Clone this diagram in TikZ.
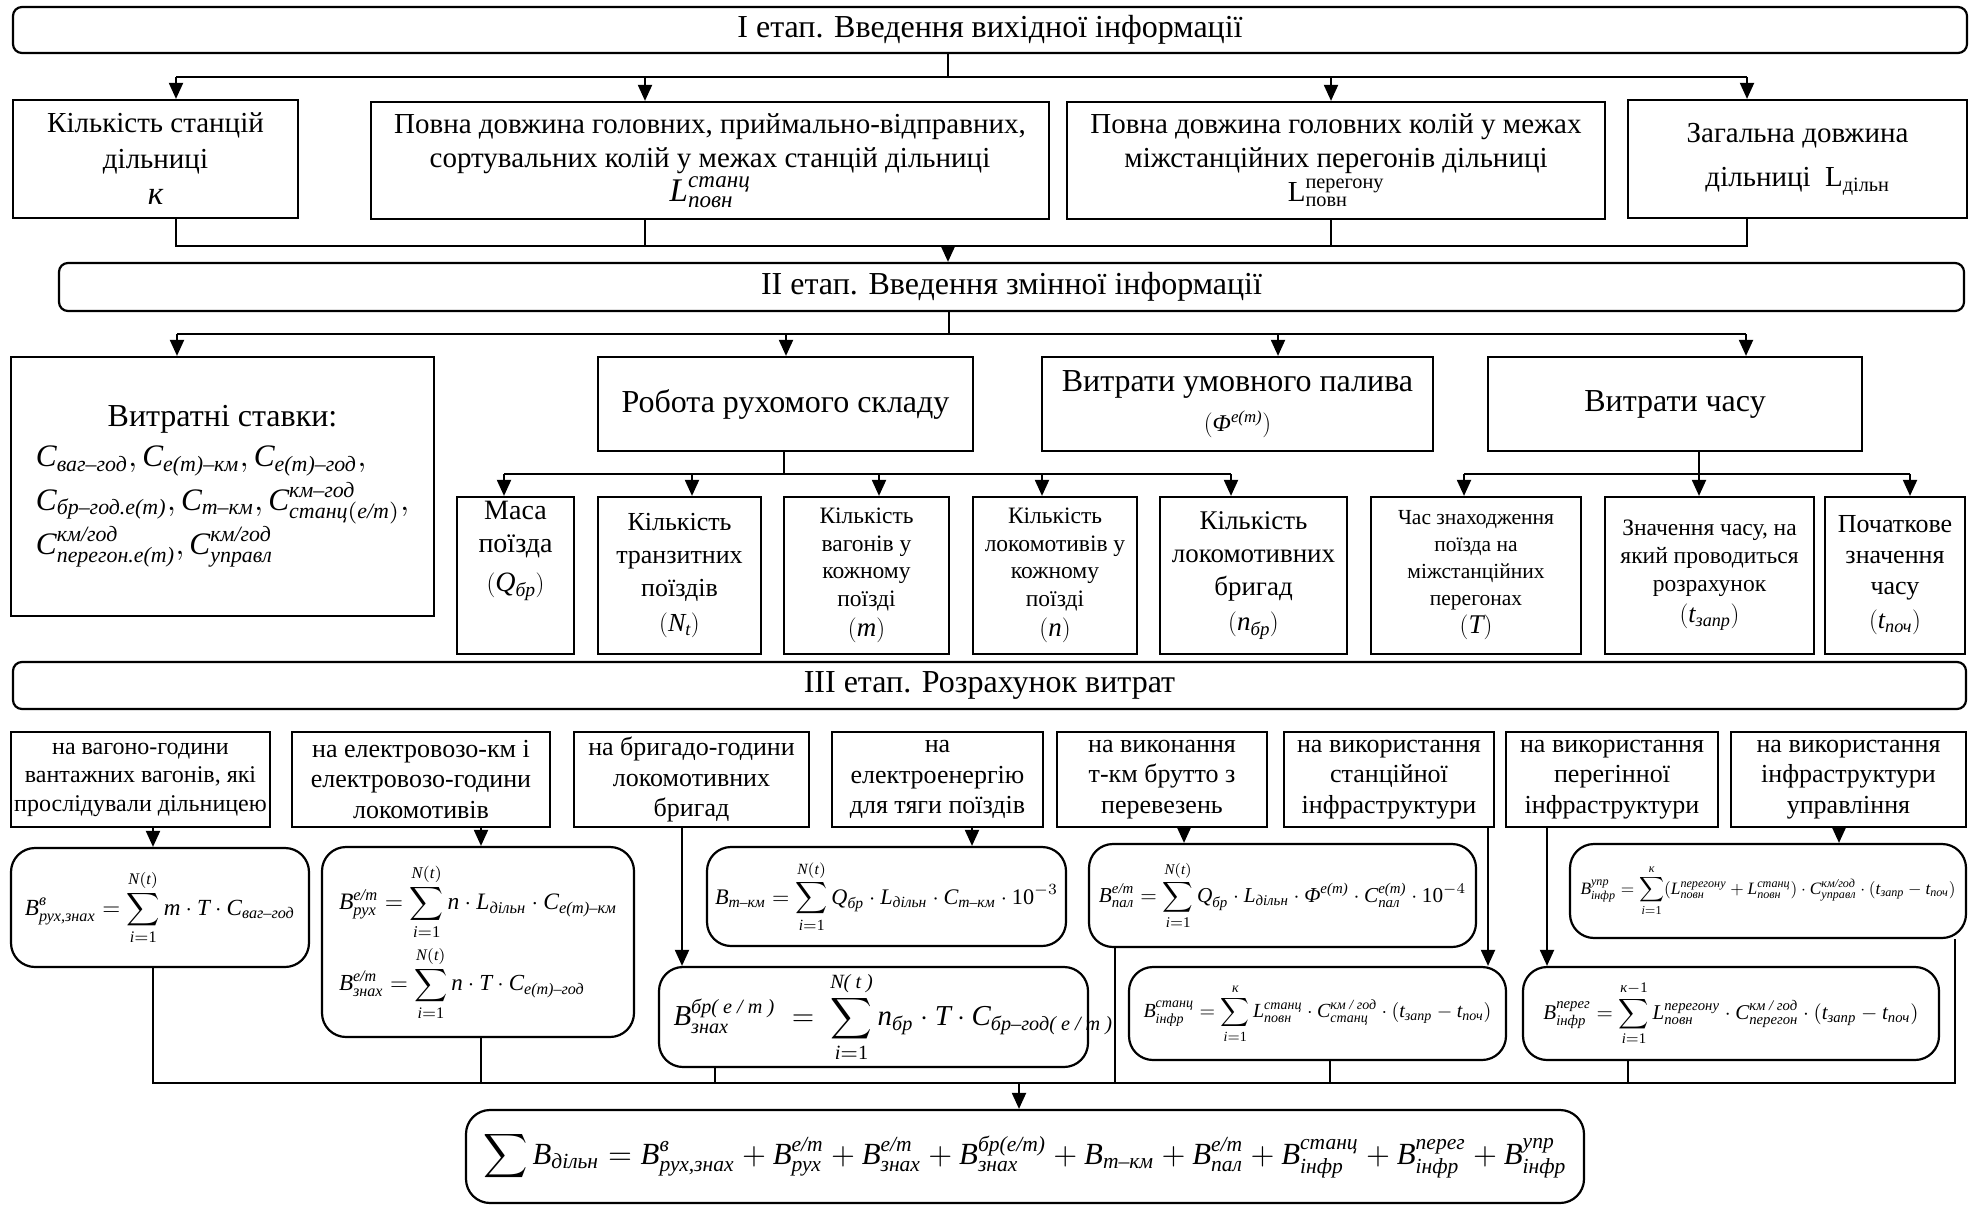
\documentclass[tikz,border=0pt]{standalone}
\usepackage{fontspec}
\setmainfont{Liberation Serif}
\usepackage{amsmath}
\usepackage{graphicx}
\usetikzlibrary{arrows.meta}
\newcommand{\zi}[1]{\text{\itshape #1}}
\newcommand{\zu}[1]{\text{\upshape #1}}
\newcommand{\zfs}[2]{\fontsize{#1}{#2}\selectfont}
\newcommand{\zb}[7][bx]{\node[#1, minimum width={#5-#3}, minimum height={#6-#4}] (#2) at ({(#3+#5)/2},{(#4+#6)/2}) {#7};}
\begin{document}
\begin{tikzpicture}[x=1pt,y=-1pt,
  bx/.style={draw, line width=2.2pt, inner sep=2pt, align=center},
  stg/.style={bx, rounded corners=9pt},
  fm/.style={bx, rounded corners=24pt},
  ln/.style={line width=2pt},
  arr/.style={line width=2pt, -{Triangle[length=16pt,width=14pt]}},
]
\useasboundingbox[fill=white] (0,0) rectangle (1975,1206);

% ---------- Stage I ----------
\zb[stg, font=\zfs{32}{38}]{s1}{13}{7}{1967}{53}{I етап. Введення вихідної інформації}
\zb[bx, font=\zfs{29}{36}]{a1}{13}{100}{298}{218}{Кількість станцій\\дільниці\\{\zfs{33}{36}$\zi{к}$}}
\zb[bx, font=\zfs{29}{34}]{a2}{371}{102}{1049}{219}{Повна довжина головних, приймально-відправних,\\сортувальних колій у межах станцій дільниці\\{\zfs{33}{40}$\zi{L}^{\zi{станц}}_{\zi{повн}}$}}
\zb[bx, font=\zfs{29}{34}]{a3}{1067}{102}{1605}{219}{Повна довжина головних колій у межах\\міжстанційних перегонів дільниці\\{\zfs{29}{40}$\zu{L}^{\zu{перегону}}_{\zu{повн}}$}}
\zb[bx, font=\zfs{29}{44}]{a4}{1628}{100}{1967}{218}{Загальна довжина\\дільниці \ $\zu{L}_{\zu{дільн}}$}

\coordinate (p0) at (948,77);
\coordinate (p1) at (176,77);
\coordinate (p2) at (645,77);
\coordinate (p3) at (1331,77);
\coordinate (p4) at (1747,77);
\coordinate (q0) at (948,246);
\draw[ln] (s1.south -| p0) -- (p0);
\draw[ln] (p1) -- (p4);
\foreach \k in {1,2,3,4} {\draw[arr] (p\k) -- (p\k |- a\k.north);}
\draw[ln] (a1.south -| p1) -- (p1 |- q0) -- (p4 |- q0) -- (a4.south -| p4);
\draw[ln] (a2.south -| p2) -- (p2 |- q0);
\draw[ln] (a3.south -| p3) -- (p3 |- q0);

% ---------- Stage II ----------
\zb[stg, font=\zfs{32}{38}]{s2}{59}{263}{1964}{311}{II етап. Введення змінної інформації}
\draw[arr] (q0) -- (s2.north -| q0);

\zb[bx]{b1}{11}{357}{434}{616}{{\zfs{32}{38}Витратні ставки:}\\[2pt]\resizebox{373pt}{!}{$\renewcommand{\arraystretch}{1.15}\begin{array}{@{}l@{}}
\zi{C}_{\zi{ваг–год}},\zi{C}_{\zi{е(т)–км}},\zi{C}_{\zi{е(т)–год}},\\
\zi{C}_{\zi{бр–год.е(т)}},\zi{C}_{\zi{т–км}},\zi{C}^{\zi{км–год}}_{\zi{станц}(\zi{е/т})},\\
\zi{C}^{\zi{км/год}}_{\zi{перегон.е(т)}},\zi{C}^{\zi{км/год}}_{\zi{управл}}
\end{array}$}}
\zb[bx, font=\zfs{32}{38}]{b2}{598}{357}{973}{451}{Робота рухомого складу}
\zb[bx, font=\zfs{32}{40}]{b3}{1042}{357}{1433}{451}{Витрати умовного палива\\{\zfs{24}{28}$(\zi{Φ}^{\zi{е(т)}})$}}
\zb[bx, font=\zfs{32}{38}]{b4}{1488}{357}{1862}{451}{Витрати часу}

\coordinate (r0) at (949,334);
\coordinate (r1) at (177,334);
\coordinate (r2) at (786,334);
\coordinate (r3) at (1278,334);
\coordinate (r4) at (1746,334);
\draw[ln] (s2.south -| r0) -- (r0);
\draw[ln] (r1) -- (r4);
\foreach \k in {1,2,3,4} {\draw[arr] (r\k) -- (r\k |- b\k.north);}

\zb[bx, font=\zfs{28}{33}]{c1}{457}{497}{574}{654}{Маса\\поїзда\\[6pt]$(\zi{Q}_{\zi{бр}})$\\[26pt]}
\zb[bx, font=\zfs{26}{33}]{c2}{598}{497}{761}{654}{Кількість\\транзитних\\поїздів\\[2pt]$(\zi{N}_{\zi{t}})$}
\zb[bx, font=\zfs{23.5}{27.5}]{c3}{784}{497}{949}{654}{Кількість\\вагонів у\\кожному\\поїзді\\[3pt]{\zfs{27}{30}$(\zi{m})$}}
\zb[bx, font=\zfs{23.5}{27.5}]{c4}{973}{497}{1137}{654}{Кількість\\локомотивів у\\кожному\\поїзді\\[3pt]{\zfs{27}{30}$(\zi{n})$}}
\zb[bx, font=\zfs{27}{33}]{c5}{1160}{497}{1347}{654}{Кількість\\локомотивних\\бригад\\[2pt]$(\zi{n}_{\zi{бр}})$}
\zb[bx, font=\zfs{21.5}{27}]{d1}{1371}{497}{1581}{654}{Час знаходження\\поїзда на\\міжстанційних\\перегонах\\[1pt]{\zfs{27}{30}$(\zi{T})$}}
\zb[bx, font=\zfs{23.5}{28}]{d2}{1605}{497}{1814}{654}{Значення часу, на\\який проводиться\\розрахунок\\[3pt]{\zfs{26}{30}$(\zi{t}_{\zi{запр}})$}}
\zb[bx, font=\zfs{26}{31}]{d3}{1825}{497}{1965}{654}{Початкове\\значення\\часу\\[3pt]$(\zi{t}_{\zi{поч}})$}

\coordinate (u0) at (784,474);
\coordinate (u1) at (504,474);
\coordinate (u2) at (692,474);
\coordinate (u3) at (879,474);
\coordinate (u4) at (1042,474);
\coordinate (u5) at (1231,474);
\draw[ln] (b2.south -| u0) -- (u0);
\draw[ln] (u1) -- (u5);
\foreach \k in {1,2,3,4,5} {\draw[arr] (u\k) -- (u\k |- c\k.north);}

\coordinate (v1) at (1464,474);
\coordinate (v2) at (1699,474);
\coordinate (v3) at (1910,474);
\draw[ln] (b4.south -| v2) -- (v2);
\draw[ln] (v1) -- (v3);
\foreach \k in {1,2,3} {\draw[arr] (v\k) -- (v\k |- d\k.north);}

% ---------- Stage III ----------
\zb[stg, font=\zfs{32}{38}]{s3}{13}{662}{1966}{709}{III етап. Розрахунок витрат}

\zb[bx, font=\zfs{24}{28.5}]{e1}{11}{732}{270}{827}{на вагоно-години\\вантажних вагонів, які\\прослідували дільницею}
\zb[bx, font=\zfs{26}{30.5}]{e2}{292}{732}{550}{827}{на електровозо-км і\\електровозо-години\\локомотивів}
\zb[bx, font=\zfs{26}{30.5}]{e3}{574}{732}{809}{827}{на бригадо-години\\локомотивних\\бригад}
\zb[bx, font=\zfs{26}{30.5}]{e4}{832}{732}{1043}{827}{на\\електроенергію\\для тяги поїздів}
\zb[bx, font=\zfs{26}{30.5}]{e5}{1057}{732}{1267}{827}{на виконання\\т-км брутто з\\перевезень}
\zb[bx, font=\zfs{26}{30.5}]{e6}{1284}{732}{1494}{827}{на використання\\станційної\\інфраструктури}
\zb[bx, font=\zfs{26}{30.5}]{e7}{1506}{732}{1718}{827}{на використання\\перегінної\\інфраструктури}
\zb[bx, font=\zfs{26}{30.5}]{e8}{1731}{732}{1966}{827}{на використання\\інфраструктури\\управління}

\zb[fm]{f1}{11}{848}{309}{967}{\resizebox{270pt}{!}{$\displaystyle \zi{B}^{\zi{в}}_{\zi{рух,знах}}=\sum_{\zi{i}=\zu{1}}^{\zi{N}(\zi{t})}\zi{m}\cdot\zi{T}\cdot\zi{C}_{\zi{ваг–год}}$}}
\zb[fm, align=left]{f2}{322}{847}{634}{1037}{\resizebox{278pt}{!}{$\displaystyle \zi{B}^{\zi{е/т}}_{\zi{рух}}=\sum_{\zi{i}=\zu{1}}^{\zi{N}(\zi{t})}\zi{n}\cdot\zi{L}_{\zi{дільн}}\cdot\zi{C}_{\zi{е(т)–км}}$}\\[5pt]\resizebox{246pt}{!}{$\displaystyle \zi{B}^{\zi{е/т}}_{\zi{знах}}=\sum_{\zi{i}=\zu{1}}^{\zi{N}(\zi{t})}\zi{n}\cdot\zi{T}\cdot\zi{C}_{\zi{е(т)–год}}$}}
\zb[fm]{f3}{659}{967}{1088}{1067}{\makebox[400pt][l]{\resizebox{440pt}{!}{$\displaystyle \zi{B}^{\zi{бр( е / т )}}_{\zi{знах}}\;=\;\sum_{\zi{i}=\zu{1}}^{\zi{N( t )}}\zi{n}_{\zi{бр}}\cdot\zi{T}\cdot\zi{C}_{\zi{бр–год( е / т )}}$}}}
\zb[fm]{f4}{707}{847}{1066}{946}{\resizebox{343pt}{!}{$\displaystyle \zi{B}_{\zi{т–км}}=\sum_{\zi{i}=\zu{1}}^{\zi{N}(\zi{t})}\zi{Q}_{\zi{бр}}\cdot\zi{L}_{\zi{дільн}}\cdot\zi{C}_{\zi{т–км}}\cdot\zu{10}^{-3}$}}
\zb[fm]{f5}{1089}{844}{1476}{947}{\resizebox{367pt}{!}{$\displaystyle \zi{B}^{\zi{е/т}}_{\zi{пал}}=\sum_{\zi{i}=\zu{1}}^{\zi{N}(\zi{t})}\zi{Q}_{\zi{бр}}\cdot\zi{L}_{\zi{дільн}}\cdot\zi{Φ}^{\zi{е(т)}}\cdot\zi{C}^{\zi{е(т)}}_{\zi{пал}}\cdot\zu{10}^{-4}$}}
\zb[fm]{f6}{1129}{967}{1506}{1060}{\resizebox{348pt}{!}{$\displaystyle \zi{B}^{\zi{станц}}_{\zi{інфр}}=\sum_{\zi{i}=\zu{1}}^{\zi{к}}\zi{L}^{\zi{станц}}_{\zi{повн}}\cdot\zi{C}^{\zi{км / год}}_{\zi{станц}}\cdot(\zi{t}_{\zi{запр}}-\zi{t}_{\zi{поч}})$}}
\zb[fm]{f7}{1523}{967}{1939}{1060}{\resizebox{375pt}{!}{$\displaystyle \zi{B}^{\zi{перег}}_{\zi{інфр}}=\sum_{\zi{i}=\zu{1}}^{\zi{к}-\zu{1}}\zi{L}^{\zi{перегону}}_{\zi{повн}}\cdot\zi{C}^{\zi{км / год}}_{\zi{перегон}}\cdot(\zi{t}_{\zi{запр}}-\zi{t}_{\zi{поч}})$}}
\zb[fm]{f8}{1570}{844}{1966}{938}{\resizebox{375pt}{!}{$\displaystyle \zi{B}^{\zi{упр}}_{\zi{інфр}}=\sum_{\zi{i}=\zu{1}}^{\zi{к}}(\zi{L}^{\zi{перегону}}_{\zi{повн}}+\zi{L}^{\zi{станц}}_{\zi{повн}})\cdot\zi{C}^{\zi{км/год}}_{\zi{управл}}\cdot(\zi{t}_{\zi{запр}}-\zi{t}_{\zi{поч}})$}}

\zb[fm]{g}{466}{1110}{1584}{1203}{\resizebox{1084pt}{!}{$\displaystyle\sum\zi{B}_{\zi{дільн}}=\zi{B}^{\zi{в}}_{\zi{рух,знах}}+\zi{B}^{\zi{е/т}}_{\zi{рух}}+\zi{B}^{\zi{е/т}}_{\zi{знах}}+\zi{B}^{\zi{бр(е/т)}}_{\zi{знах}}+\zi{B}_{\zi{т–км}}+\zi{B}^{\zi{е/т}}_{\zi{пал}}+\zi{B}^{\zi{станц}}_{\zi{інфр}}+\zi{B}^{\zi{перег}}_{\zi{інфр}}+\zi{B}^{\zi{упр}}_{\zi{інфр}}$}}

\coordinate (w1) at (153,0);
\coordinate (w2) at (481,0);
\coordinate (w3) at (682,0);
\coordinate (w4) at (972,0);
\coordinate (w5) at (1184,0);
\coordinate (w6) at (1488,0);
\coordinate (w7) at (1547,0);
\coordinate (w8) at (1839,0);
\foreach \k in {1,...,8} {\draw[arr] (e\k.south -| w\k) -- (f\k.north -| w\k);}

\coordinate (zc) at (1019,1083);
\coordinate (z1) at (153,1083);
\coordinate (z2) at (481,1083);
\coordinate (z3) at (715,1083);
\coordinate (z5) at (1115,1083);
\coordinate (z6) at (1330,1083);
\coordinate (z7) at (1628,1083);
\coordinate (z8) at (1955,1083);
\draw[ln] (f1.south -| z1) -- (z1) -- (z8) -- (f8.south -| z8);
\draw[ln] (f2.south -| z2) -- (z2);
\draw[ln] (f3.south -| z3) -- (z3);
\draw[ln] (f5.south -| z5) -- (z5);
\draw[ln] (f6.south -| z6) -- (z6);
\draw[ln] (f7.south -| z7) -- (z7);
\draw[arr] (zc) -- (g.north -| zc);
\end{tikzpicture}
\end{document}
